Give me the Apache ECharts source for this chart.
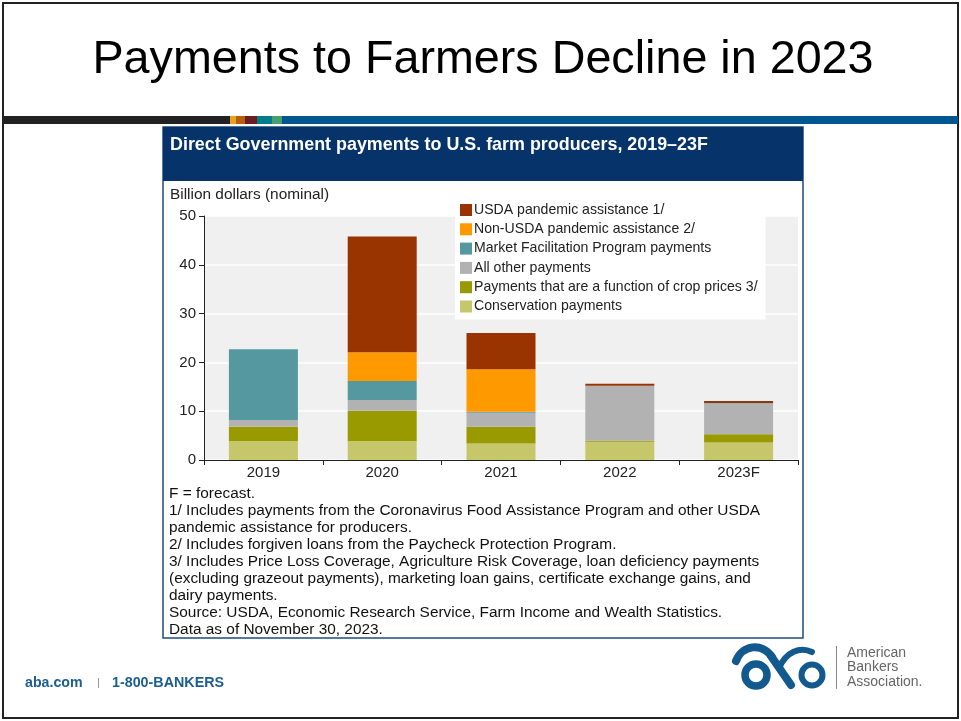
<!DOCTYPE html>
<html>
<head>
<meta charset="utf-8">
<script src="https://cdn.jsdelivr.net/npm/echarts@6/dist/echarts.min.js"></script>
<style>
html,body{margin:0;padding:0;background:#fff;}
#c{width:961px;height:721px;}
</style>
</head>
<body>
<div id="c"></div>
<script>
// ---- data ----
const categories = ['2019', '2020', '2021', '2022', '2023F'];
const conservation = [3.9, 3.9, 3.4, 3.75, 3.6];
const cropPrices = [2.9, 6.2, 3.4, 0.2, 1.7];
const allOther = [1.4, 2.2, 2.9, 11.25, 6.3];
const mfp = [14.5, 3.9, 0.2, 0, 0.1];
const nonUsda = [0, 5.9, 8.7, 0, 0];
const usda = [0, 23.7, 7.4, 0.4, 0.4];
const yTicks = [0, 10, 20, 30, 40, 50];
const seriesNames = [
  'USDA pandemic assistance 1/',
  'Non-USDA pandemic assistance 2/',
  'Market Facilitation Program payments',
  'All other payments',
  'Payments that are a function of crop prices 3/',
  'Conservation payments'
];
const notes = [
  'F = forecast.',
  '1/ Includes payments from the Coronavirus Food Assistance Program and other USDA',
  'pandemic assistance for producers.',
  '2/ Includes forgiven loans from the Paycheck Protection Program.',
  '3/ Includes Price Loss Coverage, Agriculture Risk Coverage, loan deficiency payments',
  '(excluding grazeout payments), marketing loan gains, certificate exchange gains, and',
  'dairy payments.',
  'Source: USDA, Economic Research Service, Farm Income and Wealth Statistics.',
  'Data as of November 30, 2023.'
];

const colors = {
  usda: '#993300', nonUsda: '#FF9900', mfp: '#5698A0',
  other: '#B2B2B2', crop: '#999900', cons: '#C6C66A'
};
const FONT = '"Liberation Sans", Arial, sans-serif';

const chart = echarts.init(document.getElementById('c'), null, {renderer: 'canvas'});

function bar(name, data, color) {
  return {
    name, type: 'bar', stack: 'total', data, barWidth: 69,
    itemStyle: {color}, emphasis: {disabled: true}
  };
}

const stripes = [
  [3, 230, '#222222'], [230, 236, '#E8A21E'], [236, 245, '#B5600F'],
  [245, 257, '#6B1E22'], [257, 272, '#007C8A'], [272, 282, '#4A9E6E'], [282, 958, '#00578F']
];

const graphics = [];
graphics.push({type: 'rect', shape: {x: 3, y: 3, width: 955, height: 715}, style: {fill: 'none', stroke: '#222', lineWidth: 2}, z: -10});
graphics.push({type: 'text', x: 483, y: 60, style: {text: 'Payments to Farmers Decline in 2023', font: '46.7px ' + FONT, fill: '#000', textAlign: 'center', textVerticalAlign: 'middle'}});
stripes.forEach(s => graphics.push({type: 'rect', shape: {x: s[0], y: 116, width: s[1] - s[0], height: 8}, style: {fill: s[2]}}));
graphics.push({type: 'rect', shape: {x: 163, y: 127, width: 640, height: 511}, style: {fill: '#fff', stroke: '#1F4E79', lineWidth: 1.5}, z: -5});
graphics.push({type: 'rect', shape: {x: 163, y: 127, width: 640, height: 54}, style: {fill: '#06346A'}, z: -4});
graphics.push({type: 'text', x: 170, y: 145, style: {text: 'Direct Government payments to U.S. farm producers, 2019\u201323F', font: 'bold 17.9px ' + FONT, fill: '#fff', textVerticalAlign: 'middle'}});
graphics.push({type: 'text', x: 170, y: 195, style: {text: 'Billion dollars (nominal)', font: '15.4px ' + FONT, fill: '#222', textVerticalAlign: 'middle'}});
notes.forEach((t, i) => graphics.push({type: 'text', x: 169, y: 494 + i * 17, style: {text: t, font: '15.4px ' + FONT, fill: '#111', textVerticalAlign: 'middle'}}));
graphics.push({type: 'text', x: 25, y: 683, style: {text: 'aba.com', font: 'bold 14.2px ' + FONT, fill: '#1C5D92', textVerticalAlign: 'middle'}});
graphics.push({type: 'rect', shape: {x: 98, y: 678, width: 1, height: 10}, style: {fill: '#999'}});
graphics.push({type: 'text', x: 112, y: 683, style: {text: '1-800-BANKERS', font: 'bold 14.3px ' + FONT, fill: '#1C5D92', textVerticalAlign: 'middle'}});
// logo
const logoBlue = '#11598F';
graphics.push({type: 'circle', shape: {cx: 756, cy: 675, r: 11}, style: {fill: 'none', stroke: logoBlue, lineWidth: 7.5}});
graphics.push({type: 'circle', shape: {cx: 812, cy: 675, r: 10.5}, style: {fill: 'none', stroke: logoBlue, lineWidth: 6}});
graphics.push({type: 'bezierCurve', shape: {x1: 736, y1: 661, cpx1: 742, cpy1: 645, cpx2: 762, cpy2: 642, x2: 772, y2: 657}, style: {fill: 'none', stroke: logoBlue, lineWidth: 8, lineCap: 'round'}});
graphics.push({type: 'line', shape: {x1: 771, y1: 656, x2: 791, y2: 685}, style: {stroke: logoBlue, lineWidth: 8, lineCap: 'round'}});
graphics.push({type: 'bezierCurve', shape: {x1: 779, y1: 668, cpx1: 786, cpy1: 652, cpx2: 800, cpy2: 646, x2: 812, y2: 652}, style: {fill: 'none', stroke: logoBlue, lineWidth: 6, lineCap: 'round'}});
graphics.push({type: 'rect', shape: {x: 836, y: 646, width: 1, height: 43}, style: {fill: '#888'}});
['American', 'Bankers', 'Association.'].forEach((t, i) => graphics.push({type: 'text', x: 847, y: 653 + i * 14.5, style: {text: t, font: '14px ' + FONT, fill: '#666', textVerticalAlign: 'middle'}}));

chart.setOption({
  animation: false,
  textStyle: {fontFamily: FONT},
  grid: {left: 204, top: 216, width: 594, height: 244, show: true, backgroundColor: '#F0F0F0', borderWidth: 0},
  legend: {
    orient: 'vertical', left: 455, top: 197, data: seriesNames,
    backgroundColor: '#fff', padding: [6, 8, 6, 5], itemGap: 5.3, itemWidth: 12, itemHeight: 12,
    icon: 'rect', selectedMode: false,
    textStyle: {fontSize: 14.1, color: '#222', lineHeight: 14, padding: [0, 0, 0, -3]}
  },
  xAxis: {
    type: 'category', data: categories,
    axisLine: {lineStyle: {color: '#222', width: 1}},
    axisTick: {show: true, length: 5, lineStyle: {color: '#222'}},
    axisLabel: {fontSize: 15, color: '#222', margin: 5}
  },
  yAxis: {
    type: 'value', min: 0, max: 50, interval: 10,
    axisLine: {show: true, lineStyle: {color: '#222'}},
    axisTick: {show: true, length: 5, lineStyle: {color: '#222'}},
    axisLabel: {fontSize: 15, color: '#222', margin: 8, formatter: v => yTicks.includes(v) ? String(v) : ''},
    splitLine: {show: true, lineStyle: {color: '#fff', width: 1.5}}
  },
  series: [
    bar(seriesNames[5], conservation, colors.cons),
    bar(seriesNames[4], cropPrices, colors.crop),
    bar(seriesNames[3], allOther, colors.other),
    bar(seriesNames[2], mfp, colors.mfp),
    bar(seriesNames[1], nonUsda, colors.nonUsda),
    bar(seriesNames[0], usda, colors.usda)
  ],
  graphic: {elements: graphics}
});
</script>
</body>
</html>
